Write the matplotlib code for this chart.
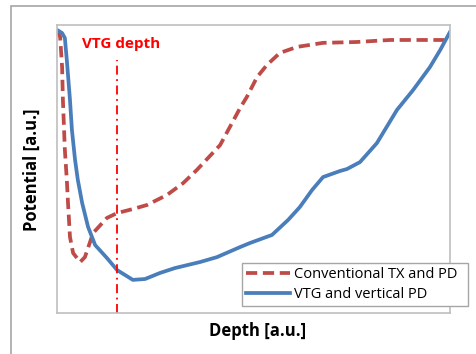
import matplotlib
matplotlib.use("Agg")
import matplotlib.pyplot as plt
from matplotlib.patches import Rectangle

# Data (normalized units: depth 0-100, potential 0-100)
vtg_x = [0, 1.3, 2.0, 2.5, 3.3, 3.8, 4.6, 5.3, 6.4, 7.9, 9.7, 12.7, 15.3, 19.3, 22.4,
         26.2, 30.0, 36.4, 40.7, 46.6, 49.1, 54.7, 58.8, 61.8, 64.9, 67.7, 72.0, 73.8,
         77.1, 81.4, 86.5, 90.6, 94.9, 97.5, 100]
vtg_y = [98.3, 97.2, 95.5, 87.8, 74.0, 63.5, 53.1, 46.2, 38.2, 29.9, 23.6, 19.1, 14.9,
         11.5, 11.8, 13.9, 15.6, 17.7, 19.4, 22.9, 24.3, 27.1, 32.3, 36.8, 42.7, 47.2,
         49.3, 50.0, 52.4, 59.0, 70.5, 77.4, 85.4, 91.3, 97.6]

conv_x = [0, 0.8, 1.3, 1.5, 2.0, 2.5, 2.8, 3.3, 4.1, 5.9, 7.1, 9.2, 12.7, 15.3, 19.3,
          22.9, 28.0, 32.1, 35.6, 41.5, 46.6, 48.3, 50.9, 53.4, 56.7, 61.1, 67.7, 76.3,
          84.7, 99.2]
conv_y = [98.3, 95.8, 85.4, 74.0, 56.6, 46.2, 38.2, 26.4, 20.8, 17.7, 19.4, 27.8, 33.0,
          34.7, 36.1, 37.5, 41.0, 45.1, 49.7, 58.3, 71.2, 75.0, 81.9, 86.1, 90.3, 92.4,
          93.8, 94.1, 94.8, 94.8]

vtg_depth = 15.3
series_labels = ["Conventional TX and PD", "VTG and vertical PD"]
x_label = "Depth [a.u.]"
y_label = "Potential [a.u.]"
marker_text = "VTG depth"

plt.rcParams['font.family'] = ['Open Sans', 'DejaVu Sans']

fig = plt.figure(figsize=(4.77, 3.54), dpi=100)
fig.patch.set_facecolor('white')

# outer chart-area frame
fig.add_artist(Rectangle((11/477, -0.2), 1.2, 1 - 6/354 + 0.2, transform=fig.transFigure,
                         fill=False, edgecolor='#a6a6a6', linewidth=1.2))

ax = fig.add_axes([57/477, 1 - 313/354, (450 - 57)/477, (313 - 25)/354])
for s in ax.spines.values():
    s.set_color('#bfbfbf')
    s.set_linewidth(1.2)

red = '#be4b48'
blue = '#4a7ebb'
l1, = ax.plot(conv_x, conv_y, color=red, linewidth=2.7, linestyle=(0, (3.0, 1.5)),
              label=series_labels[0])
l2, = ax.plot(vtg_x, vtg_y, color=blue, linewidth=2.7, label=series_labels[1])
ax.plot([vtg_depth, vtg_depth], [0, 88], color='#ff0000', linewidth=1.3,
        linestyle=(0, (5, 2.5, 1, 2.5)))
ax.text(6.4, 93.5, marker_text, color='#ff0000', fontsize=11, fontweight='bold',
        ha='left', va='center')

ax.set_xlim(0, 100)
ax.set_ylim(0, 100)
ax.set_xticks([])
ax.set_yticks([])

fig.text(258/477, 1 - 331/354, x_label, fontsize=12, fontweight='bold',
         ha='center', va='center')
fig.text(32/477, 1 - 170/354, y_label, fontsize=12, fontweight='bold',
         ha='center', va='center', rotation=90)

leg = fig.legend(handles=[l1, l2], loc='lower left',
                 bbox_to_anchor=(242/477, 48/354, 226/477, 52/354),
                 mode='expand', borderaxespad=0, fancybox=False, framealpha=1,
                 edgecolor='#a6a6a6', fontsize=10.5, handlelength=3.0,
                 handletextpad=0.3, labelspacing=0.3, borderpad=0.3)
leg.get_frame().set_linewidth(1.0)

fig.savefig('out.png', dpi=100, facecolor='white')
